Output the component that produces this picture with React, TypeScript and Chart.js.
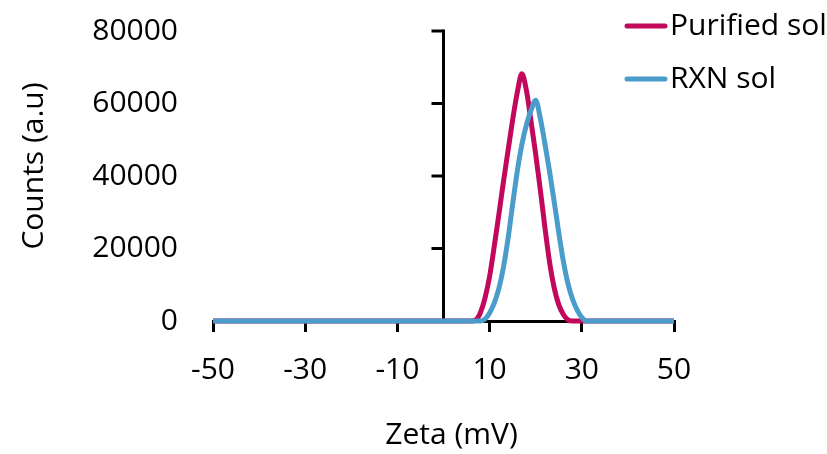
import React, { useEffect, useRef } from 'react';
import { Chart, registerables } from 'chart.js';

Chart.register(...registerables);

const zetaTicks = [-50, -30, -10, 10, 30, 50];
const countTicks = [0, 20000, 40000, 60000, 80000];
const seriesNames = ['Purified sol', 'RXN sol'];
const seriesColors = ['#C1085B', '#4A9CCB'];
const xTitle = 'Zeta (mV)';
const yTitle = 'Counts (a.u)';

const purifiedZeta = [-50, 6, 7, 8, 9, 10, 11, 12, 13, 14, 15, 16, 17, 18, 19, 20, 21, 22, 23, 24, 25, 26, 27, 28, 50];
const purifiedCounts = [0, 0, 300, 2300, 6300, 12300, 20500, 29300, 38400, 47000, 55500, 63000, 68200, 63500, 55000, 46000, 36200, 25800, 16300, 9200, 4500, 1800, 300, 0, 0];

const rxnZeta = [-50, 8, 9, 10, 11, 12, 13, 14, 15, 16, 17, 18, 19, 20, 21, 22, 23, 24, 25, 26, 27, 28, 29, 30, 31, 50];
const rxnCounts = [0, 0, 500, 2200, 4900, 8900, 14800, 22700, 32200, 41300, 48700, 54200, 58200, 60900, 55900, 48900, 41300, 33000, 24400, 16500, 10300, 6000, 3000, 1000, 0, 0];

const FONT = 'Open Sans';
const FS = 30;

export default function App() {
  const ref = useRef<HTMLCanvasElement>(null);
  useEffect(() => {
    const canvas = ref.current;
    if (!canvas) return;
    const toPts = (xs: number[], ys: number[]) => xs.map((x, i) => ({ x, y: ys[i] }));

    const decor = {
      id: 'decor',
      beforeDatasetsDraw(chart: any) {
        const { ctx, chartArea, scales } = chart;
        const x0 = scales.x.getPixelForValue(0);
        ctx.save();
        ctx.strokeStyle = '#000';
        ctx.lineWidth = 3;
        ctx.beginPath();
        ctx.moveTo(x0, scales.y.getPixelForValue(countTicks[countTicks.length - 1]) - 1.5);
        ctx.lineTo(x0, chartArea.bottom);
        ctx.stroke();
        countTicks.forEach((v) => {
          const y = scales.y.getPixelForValue(v);
          ctx.beginPath();
          ctx.moveTo(x0 - 12, y);
          ctx.lineTo(x0, y);
          ctx.stroke();
        });
        ctx.restore();
      },
      afterDraw(chart: any) {
        const { ctx, chartArea } = chart;
        ctx.save();
        ctx.fillStyle = '#000';
        ctx.font = `${FS}px "${FONT}"`;
        // x title
        ctx.textAlign = 'center';
        ctx.textBaseline = 'alphabetic';
        ctx.fillText(xTitle, (chartArea.left + chartArea.right) / 2 + 8, 444);
        // y title
        ctx.save();
        ctx.translate(43, (chartArea.top + chartArea.bottom) / 2 - 10);
        ctx.rotate(-Math.PI / 2);
        ctx.fillText(yTitle, 0, 0);
        ctx.restore();
        // legend
        ctx.textAlign = 'left';
        ctx.textBaseline = 'middle';
        chart.data.datasets
          .slice()
          .sort((a: any, b: any) => a.legendIndex - b.legendIndex)
          .forEach((ds: any, i: number) => {
            const y = 26 + i * 53;
            const lx = chartArea.right - 47;
            ctx.strokeStyle = ds.borderColor;
            ctx.lineWidth = 5;
            ctx.lineCap = 'round';
            ctx.beginPath();
            ctx.moveTo(lx, y);
            ctx.lineTo(lx + 38, y);
            ctx.stroke();
            ctx.fillText(ds.label, lx + 43, y);
          });
        ctx.restore();
      },
    };

    const chart = new Chart(canvas, {
      type: 'line',
      data: {
        datasets: [
          {
            label: seriesNames[1],
            legendIndex: 1,
            data: toPts(rxnZeta, rxnCounts),
            borderColor: seriesColors[1],
            borderWidth: 5,
            pointRadius: 0,
            cubicInterpolationMode: 'monotone',
            fill: false,
            clip: false,
            order: 0,
          } as any,
          {
            label: seriesNames[0],
            legendIndex: 0,
            data: toPts(purifiedZeta, purifiedCounts),
            borderColor: seriesColors[0],
            borderWidth: 5,
            pointRadius: 0,
            cubicInterpolationMode: 'monotone',
            fill: false,
            clip: false,
            order: 1,
          } as any,
        ],
      },
      options: {
        animation: false,
        responsive: true,
        maintainAspectRatio: false,
        layout: { padding: { left: 0, right: 153, top: 31, bottom: 0 } },
        plugins: { legend: { display: false }, tooltip: { enabled: false } },
        scales: {
          x: {
            type: 'linear',
            min: zetaTicks[0],
            max: zetaTicks[zetaTicks.length - 1],
            afterBuildTicks: (s: any) => {
              s.ticks = zetaTicks.map((v) => ({ value: v }));
            },
            afterFit: (s: any) => {
              s.height = 133;
            },
            border: { display: true, color: '#000', width: 3 },
            grid: { drawOnChartArea: false, drawTicks: true, tickLength: 11, color: '#000', tickColor: '#000', lineWidth: 3 },
            ticks: { color: '#000', font: { family: FONT, size: FS }, padding: 20, maxRotation: 0, autoSkip: false, callback: (v: any) => String(v) },
          },
          y: {
            type: 'linear',
            min: countTicks[0],
            max: countTicks[countTicks.length - 1],
            afterBuildTicks: (s: any) => {
              s.ticks = countTicks.map((v) => ({ value: v }));
            },
            afterFit: (s: any) => {
              s.width = 213;
            },
            border: { display: false },
            grid: { display: true, drawOnChartArea: false, drawTicks: true, tickLength: 35, color: 'rgba(0,0,0,0)', tickColor: 'rgba(0,0,0,0)' },
            ticks: { color: '#000', font: { family: FONT, size: FS }, padding: 0, callback: (v: any) => String(v) },
          },
        },
      },
      plugins: [decor],
    });
    return () => chart.destroy();
  }, []);

  return (
    <div style={{ position: 'fixed', left: 0, top: 0, width: 827, height: 454, background: '#fff' }}>
      <canvas ref={ref} />
    </div>
  );
}
